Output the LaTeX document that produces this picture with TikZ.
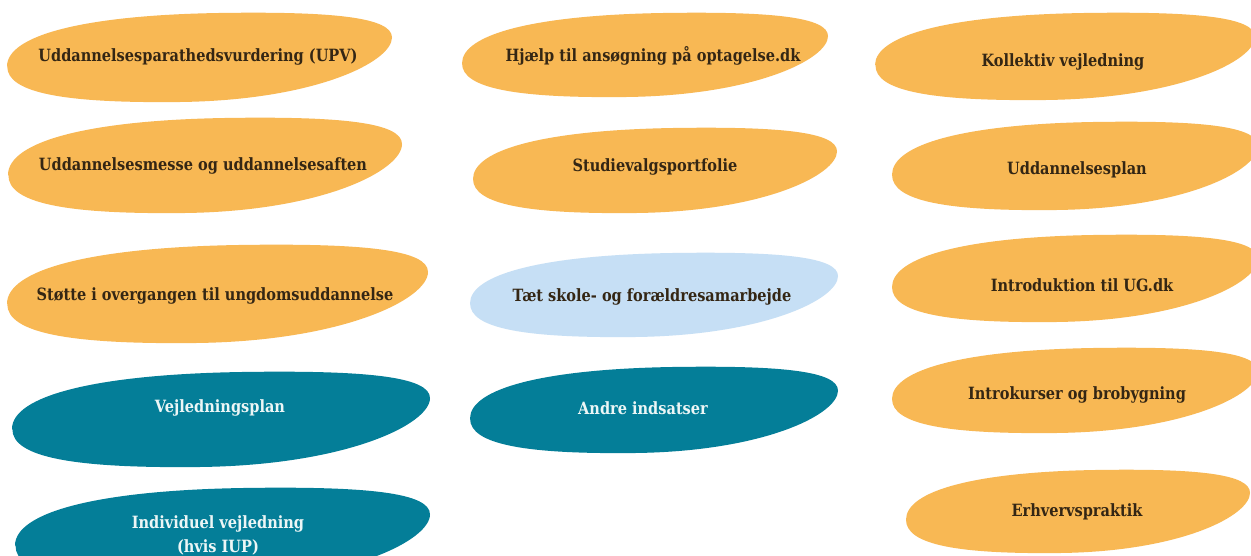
\documentclass[tikz,border=0pt]{standalone}
\usepackage{fontspec}
\newfontfamily\blobfont[FakeStretch=0.86]{DejaVu Serif}
\definecolor{blorange}{RGB}{248,184,84}
\definecolor{blteal}{RGB}{4,126,152}
\definecolor{bllight}{RGB}{198,223,245}
\definecolor{txtdark}{RGB}{52,38,20}
\definecolor{txtlight}{RGB}{236,246,246}
\newcommand\myblob[5]{%
  \fill[#5, shift={(#1,#2)}, xscale=#3, yscale=#4]
    (-1,0.2) .. controls (-1,-0.5) and (-0.6,-0.95) .. (0.1,-1)
    .. controls (0.7,-1.04) and (1,-0.9) .. (1,-0.45)
    .. controls (1,0.1) and (0.6,0.96) .. (-0.1,1)
    .. controls (-0.7,1.03) and (-1,0.8) .. cycle;}
\tikzset{
  lbl/.style={font=\blobfont\bfseries\fontsize{16.9}{24}\selectfont, text=txtdark, align=center, inner sep=0pt},
  lbw/.style={lbl, text=txtlight},
}
\begin{document}
\begin{tikzpicture}[x=1pt,y=-1pt]
\useasboundingbox (0,0) rectangle (1251,556);
\fill[white] (0,0) rectangle (1251,556);
\begin{scope}
\clip (0,0) rectangle (1251,556);
% column 1
\myblob{199.5}{57.5}{192.5}{44.5}{blorange}
\myblob{205}{165.5}{197}{47.5}{blorange}
\myblob{217.5}{294}{210.5}{49}{blorange}
\myblob{221}{419.5}{209}{47.5}{blteal}
\myblob{222.5}{536}{207.5}{48}{blteal}
% column 2
\myblob{645}{55}{183}{42}{blorange}
\myblob{655}{170.5}{182}{42.5}{blorange}
\myblob{654}{295}{184}{42}{bllight}
\myblob{654}{410}{184}{43}{blteal}
% column 3
\myblob{1065}{56.5}{190}{43.5}{blorange}
\myblob{1075}{166}{183}{44}{blorange}
\myblob{1075}{278.5}{183}{43.5}{blorange}
\myblob{1075}{390.5}{183}{42.5}{blorange}
\myblob{1078}{511.5}{172}{41.5}{blorange}
\end{scope}
\node[lbl] (upv) at (198,57) {Uddannelsesparathedsvurdering (UPV)};
\node[lbl] (messe) at (203,166) {Uddannelsesmesse og uddannelsesaften};
\node[lbl] (stotte) at (215,296) {Støtte i overgangen til ungdomsuddannelse};
\node[lbw] (vplan) at (220,408) {Vejledningsplan};
\node[lbw] (indiv) at (218,535) {Individuel vejledning\\(hvis IUP)};
\node[lbl] (hjaelp) at (653,56) {Hjælp til ansøgning på optagelse.dk};
\node[lbl] (studie) at (655,167) {Studievalgsportfolie};
\node[lbl] (taet) at (652,297) {Tæt skole- og forældresamarbejde};
\node[lbw] (andre) at (643,408) {Andre indsatser};
\node[lbl] (koll) at (1063,62) {Kollektiv vejledning};
\node[lbl] (uplan) at (1077,170) {Uddannelsesplan};
\node[lbl] (intro) at (1082,285) {Introduktion til UG.dk};
\node[lbl] (kurser) at (1077,395) {Introkurser og brobygning};
\node[lbl] (erhv) at (1077,512) {Erhvervspraktik};
\end{tikzpicture}
\end{document}
